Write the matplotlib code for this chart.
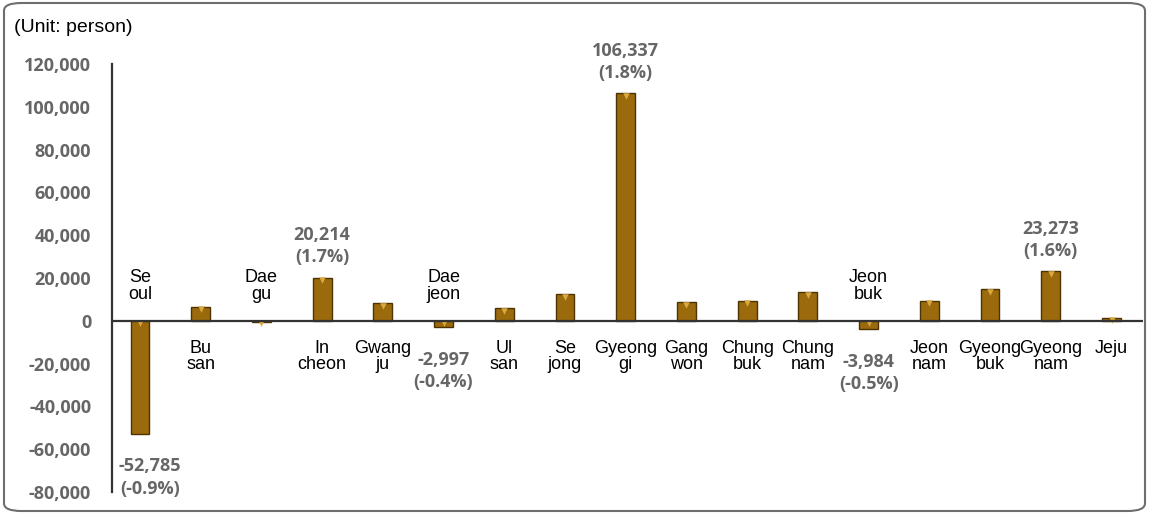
import numpy as np
import matplotlib
matplotlib.use("Agg")
import matplotlib.pyplot as plt
from matplotlib.patches import FancyBboxPatch

# --- data ---
regions = ["Se\noul", "Bu\nsan", "Dae\ngu", "In\ncheon", "Gwang\nju", "Dae\njeon",
           "Ul\nsan", "Se\njong", "Gyeong\ngi", "Gang\nwon", "Chung\nbuk", "Chung\nnam",
           "Jeon\nbuk", "Jeon\nnam", "Gyeong\nbuk", "Gyeong\nnam", "Jeju"]
change = [-52785, 6600, -500, 20214, 8300, -2997, 6000, 12500, 106337, 8600,
          9400, 13300, -3984, 9400, 14800, 23273, 1500]
# labelled bars: index -> percent text
pct_labels = {0: "-0.9%", 3: "1.7%", 5: "-0.4%", 8: "1.8%", 12: "-0.5%", 15: "1.6%"}
yticks = [-80000, -60000, -40000, -20000, 0, 20000, 40000, 60000, 80000, 100000, 120000]

BAR = "#9a6a0c"
EDGE = "#4e3300"
GRAY = "#666666"

fig = plt.figure(figsize=(11.5, 5.14), dpi=100)
ax = fig.add_axes([0.0974, 0.0428, 0.8966, 0.8327])

x = np.arange(len(regions))
vals = np.array(change)
ax.bar(x, vals, width=0.31, color=BAR, edgecolor=EDGE, linewidth=1.0, zorder=3)
# bevel highlight at the top of each bar
tops = np.maximum(vals, 0)
ax.scatter(x, tops - 1200, marker="v", s=22, color="#d9a93f", zorder=4, linewidths=0)

ax.axhline(0, color="#333333", lw=1.6, zorder=5)
ax.set_xlim(-0.46, 16.52)
ax.set_ylim(-80000, 120000)
ax.set_yticks(yticks)
ax.set_yticklabels([f"{v:,}" for v in yticks], fontfamily="Open Sans",
                   fontweight="bold", fontsize=13, color=GRAY)
ax.tick_params(axis="y", length=0, pad=15)
ax.set_xticks([])
for s in ["top", "right", "bottom"]:
    ax.spines[s].set_visible(False)
ax.spines["left"].set_color("#333333")
ax.spines["left"].set_linewidth(1.6)

# category names on the opposite side of the bar
for i, (name, v) in enumerate(zip(regions, change)):
    if v < 0:
        ax.text(i, 8500, name, ha="center", va="bottom", fontsize=13,
                fontfamily="Liberation Sans", linespacing=0.95)
    else:
        ax.text(i, -8800, name, ha="center", va="top", fontsize=13,
                fontfamily="Liberation Sans", linespacing=0.95)

# value labels
for i, p in pct_labels.items():
    v = change[i]
    txt = f"{v:,}\n({p})"
    dx = 7 if i == 0 else 0
    if v < 0:
        ax.annotate(txt, (i, v), xytext=(dx, -17), textcoords="offset points",
                    ha="center", va="top", fontsize=13, fontfamily="Open Sans",
                    fontweight="bold", color=GRAY, linespacing=1.3)
    else:
        ax.annotate(txt, (i, v), xytext=(dx, 8), textcoords="offset points",
                    ha="center", va="bottom", fontsize=13, fontfamily="Open Sans",
                    fontweight="bold", color=GRAY, linespacing=1.3)

fig.text(14 / 1150, 1 - 27 / 514, "(Unit: person)", fontsize=14,
         fontfamily="Liberation Sans", va="center", ha="left")

border = FancyBboxPatch((4 / 1150, 3 / 514), 1141 / 1150, 508 / 514,
                        boxstyle="round,pad=0,rounding_size=0.015",
                        transform=fig.transFigure, fill=False,
                        edgecolor="#6e6e6e", lw=1.5)
fig.patches.append(border)

fig.savefig("out.png", dpi=100)
